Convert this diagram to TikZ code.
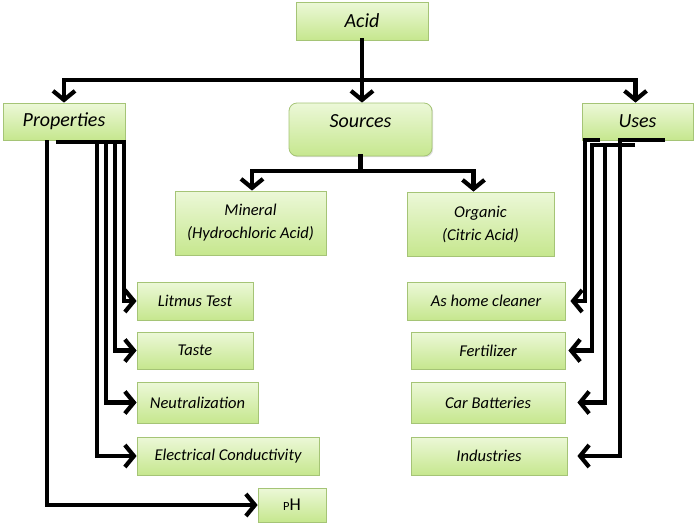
\documentclass[tikz,border=0pt]{standalone}
\usepackage{fontspec}
\setmainfont{Carlito}
\usetikzlibrary{arrows.meta,shadows}

\definecolor{boxtop}{HTML}{ECF8D8}
\definecolor{boxbot}{HTML}{C6E78E}
\definecolor{boxline}{HTML}{A5C476}

\tikzset{
	box/.style={draw=boxline, line width=0.8pt, top color=boxtop, bottom color=boxbot,
		font=\itshape\fontsize{16.5}{23}\selectfont, align=center, inner sep=0pt,
		drop shadow={opacity=0.25, shadow xshift=1.2pt, shadow yshift=-1.2pt}},
	bigbox/.style={box, font=\itshape\fontsize{20}{24}\selectfont},
	conn/.style={line width=4.2pt, line cap=rect},
	arr/.style={line width=4.2pt, -{Straight Barb[length=9pt,width=22pt]}},
}

\begin{document}
\begin{tikzpicture}[x=1pt,y=-1pt]
	\useasboundingbox (0,0) rectangle (698,523);
	
	% top level
	\node[bigbox, minimum width=132pt, minimum height=38pt] (acid) at (362,21) {Acid};
	\node[bigbox, minimum width=122pt, minimum height=37pt] (props) at (64,121.5) {Properties};
	\node[bigbox, minimum width=143pt, minimum height=53pt, rounded corners=8pt,
		text height=14pt, text depth=18pt] (sources) at (360.5,129.5) {Sources};
	\node[bigbox, minimum width=111pt, minimum height=37pt] (uses) at (637.5,121.5) {Uses};
	
	% sources
	\node[box, minimum width=151pt, minimum height=64pt] (mineral) at (250.5,223) {Mineral\\(Hydrochloric Acid)};
	\node[box, minimum width=147pt, minimum height=64pt] (organic) at (480.5,224) {Organic\\(Citric Acid)};
	
	% properties
	\node[box, minimum width=116pt, minimum height=38pt] (litmus) at (195,301) {Litmus Test};
	\node[box, minimum width=116pt, minimum height=37pt] (taste) at (195,350.5) {Taste};
	\node[box, minimum width=121pt, minimum height=41pt] (neutral) at (197.5,402.5) {Neutralization};
	\node[box, minimum width=182pt, minimum height=38pt] (elec) at (228,456) {Electrical Conductivity};
	\node[box, minimum width=68pt, minimum height=34pt, font=\upshape\fontsize{18}{20}\selectfont] (ph) at (292,505) {{\fontsize{12.5}{12}\selectfont P}H};
	
	% uses
	\node[box, minimum width=158pt, minimum height=38pt] (home) at (486,301) {As home cleaner};
	\node[box, minimum width=154pt, minimum height=37pt] (fert) at (488,350.5) {Fertilizer};
	\node[box, minimum width=154pt, minimum height=41pt] (car) at (488,402.5) {Car Batteries};
	\node[box, minimum width=156pt, minimum height=38pt] (ind) at (489,456) {Industries};
	
	% acid to the three groups
	\coordinate (split) at (362,80);
	\draw[conn] (acid.south) -- (split);
	\draw[arr] (split) -| (props.north);
	\draw[arr] (split) -| ([xshift=-2pt]uses.north);
	\draw[arr] (split) -- (split |- sources.north);
	
	% sources to mineral and organic
	\coordinate (ssplit) at (360.5,171);
	\draw[conn] (sources.south) -- (ssplit);
	\draw[arr] (ssplit) -| ([xshift=1.5pt]mineral.north);
	\draw[arr] (ssplit) -| ([xshift=-7pt]organic.north);
	
	% properties branches
	\coordinate (pa) at (58,142);
	\coordinate (pb) at (124,142);
	\draw[conn] (pa) -- (pb);
	\draw[arr] ([xshift=-17pt]props.south) |- (ph.west);
	\draw[arr] (pb) |- (litmus.west);
	\draw[arr] ([xshift=-9pt]pb) |- (taste.west);
	\draw[arr] ([xshift=-18pt]pb) |- (neutral.west);
	\draw[arr] ([xshift=-27pt]pb) |- (elec.west);
	
	% uses branches
	\coordinate (ua) at (600,140);
	\coordinate (ub) at (635,145);
	\coordinate (uc) at (605,145);
	\coordinate (ud) at (665,140);
	\draw[arr, shorten >=5pt] (ua) -- (585,140) |- (home.east);
	\draw[arr, shorten >=3pt] (ub) -- (592,145) |- (fert.east);
	\draw[arr, shorten >=12pt] (uc) |- (car.east);
	\draw[arr, shorten >=10pt] (ud) -- (620,140) |- (ind.east);
\end{tikzpicture}
\end{document}
